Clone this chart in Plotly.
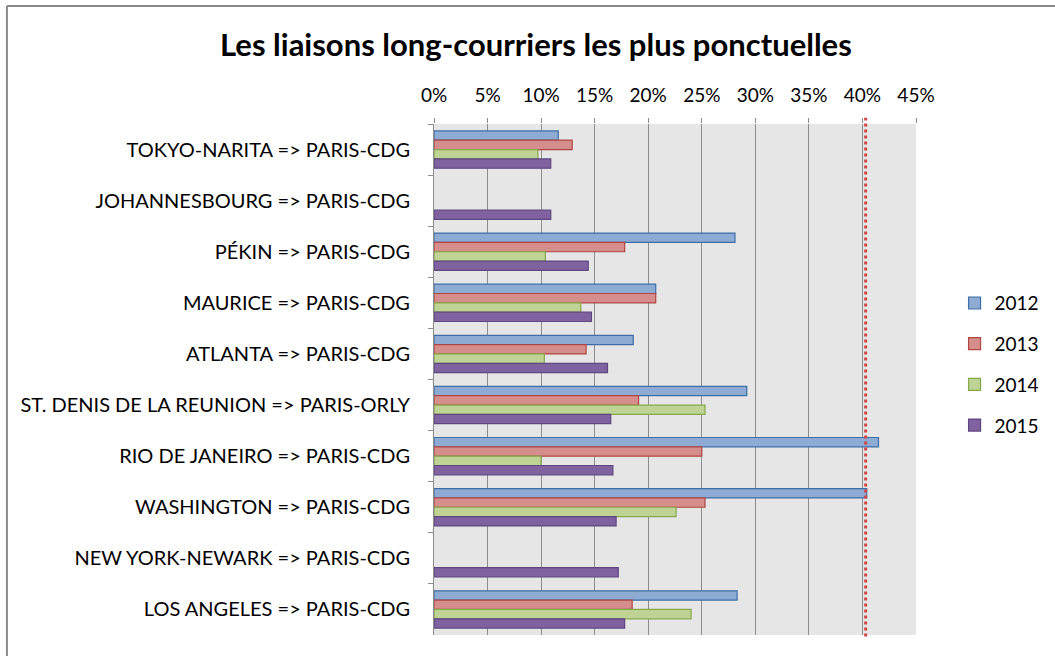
import plotly.graph_objects as go

routes = [
    "TOKYO-NARITA => PARIS-CDG",
    "JOHANNESBOURG => PARIS-CDG",
    "PÉKIN => PARIS-CDG",
    "MAURICE => PARIS-CDG",
    "ATLANTA => PARIS-CDG",
    "ST. DENIS DE LA REUNION => PARIS-ORLY",
    "RIO DE JANEIRO => PARIS-CDG",
    "WASHINGTON => PARIS-CDG",
    "NEW YORK-NEWARK => PARIS-CDG",
    "LOS ANGELES => PARIS-CDG",
]
years = ["2012", "2013", "2014", "2015"]
v2012 = [11.6, None, 28.1, 20.7, 18.6, 29.2, 41.5, 40.4, None, 28.3]
v2013 = [12.9, None, 17.8, 20.7, 14.2, 19.1, 25.0, 25.3, None, 18.5]
v2014 = [9.7, None, 10.4, 13.7, 10.3, 25.3, 10.0, 22.6, None, 24.0]
v2015 = [10.9, 10.9, 14.4, 14.7, 16.2, 16.5, 16.7, 17.0, 17.2, 17.8]
series = [v2012, v2013, v2014, v2015]
threshold = 40.3
x_ticks = [0, 5, 10, 15, 20, 25, 30, 35, 40, 45]

fills = ["#8eabd3", "#d68e8c", "#bed394", "#8062a0"]
edges = ["#3d6ea8", "#b04542", "#86a84a", "#5e4680"]

FONT = "Lato"

fig = go.Figure()
for name, vals, fc, ec in zip(years, series, fills, edges):
    fig.add_trace(go.Bar(
        y=routes, x=vals, name=name, orientation="h",
        marker=dict(color=fc, line=dict(color=ec, width=1.2)),
        legendgroup=name,
    ))

fig.add_shape(type="line", xref="x", yref="paper", x0=threshold, x1=threshold,
              y0=-0.003, y1=1.012, line=dict(color="#d04545", width=3, dash="dot"))

# outer chart border (top and left)
fig.add_shape(type="line", xref="paper", yref="paper", x0=-0.886, x1=1.3,
              y0=1.231, y1=1.231, line=dict(color="#8a8a8a", width=2))
fig.add_shape(type="line", xref="paper", yref="paper", x0=-0.886, x1=-0.886,
              y0=1.231, y1=-0.05, line=dict(color="#8a8a8a", width=2))

fig.update_layout(
    width=1055, height=656,
    margin=dict(l=434, r=139, t=124, b=21, autoexpand=False),
    paper_bgcolor="white", plot_bgcolor="#e6e6e6",
    barmode="group", bargap=0.27, bargroupgap=0,
    title=dict(text="<b>Les liaisons long-courriers les plus ponctuelles</b>",
               x=0.508, xanchor="center", y=0.931, yanchor="middle",
               font=dict(family=FONT, size=31, color="black")),
    font=dict(family=FONT, size=20, color="black"),
    legend=dict(x=1.08, xanchor="left", y=0.53, yanchor="middle",
                font=dict(family=FONT, size=19, color="black"),
                tracegroupgap=13, itemwidth=30),
    xaxis=dict(side="top", range=[0, 45], tickvals=x_ticks,
               ticktext=[f"{t}%" for t in x_ticks],
               showgrid=True, gridcolor="#8c8c8c", gridwidth=1,
               zeroline=False, ticks="outside", ticklen=5, tickcolor="#8c8c8c",
               tickfont=dict(size=19), showline=False, ticklabelstandoff=8),
    yaxis=dict(autorange="reversed", showgrid=False, showline=True,
               linecolor="#8c8c8c", linewidth=1, ticks="outside", ticklen=5,
               tickcolor="#8c8c8c", tickson="boundaries", ticklabelstandoff=19,
               tickfont=dict(size=20)),
)

fig.write_html("out.html", config={"displayModeBar": False},
               post_script="document.body.style.margin='0';")
